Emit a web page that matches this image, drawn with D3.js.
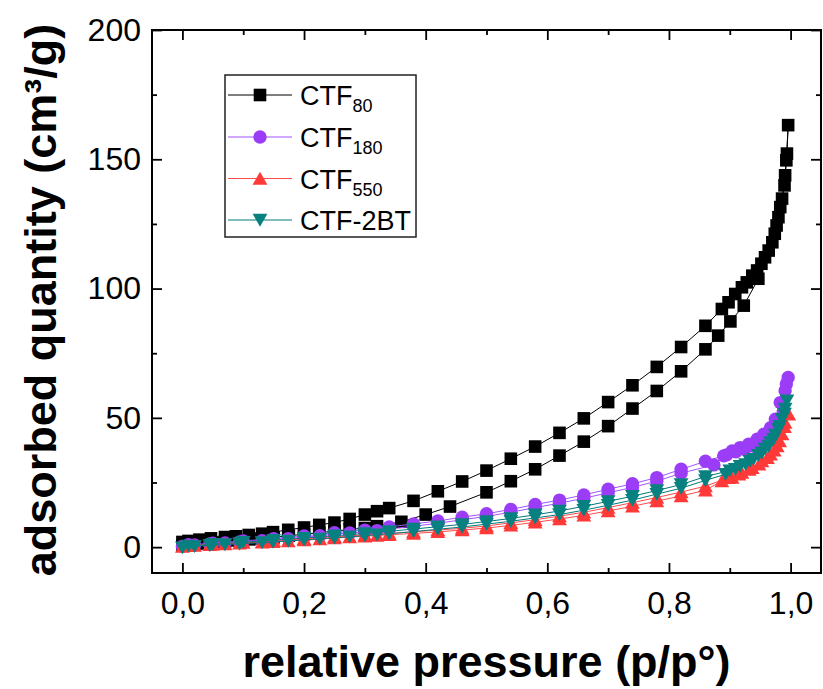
<!DOCTYPE html>
<html><head><meta charset="utf-8">
<script src="https://cdn.jsdelivr.net/npm/d3@7"></script>
<style>body{margin:0;background:#fff} svg{display:block} text{font-family:"Liberation Sans",Arial,sans-serif;fill:#000}</style>
</head><body><svg id="c" width="823" height="689"></svg>
<script>
// ---------- data (relative pressure p/p°, adsorbed quantity cm³/g) ----------
const seriesNames = ["CTF", "CTF", "CTF", "CTF-2BT"];
const seriesSubs  = ["80", "180", "550", ""];

// CTF80 : adsorption (ascending) and desorption (descending) branches
const x80a = [0.0,0.01,0.03,0.05,0.07,0.09,0.11,0.13,0.15,0.175,0.2,0.225,0.25,0.275,0.30,0.32,0.36,0.40,0.44,0.50,0.54,0.58,0.62,0.66,0.70,0.74,0.78,0.82,0.86,0.881,0.901,0.923,0.947,0.958,0.970,0.977,0.983,0.990,0.993,0.996];
const y80a = [0.6,1.0,1.4,1.8,2.2,2.6,3.0,3.4,3.8,4.4,5.0,5.6,6.2,6.8,7.4,8.1,9.8,12.6,15.7,21.2,25.5,30.1,35.4,40.8,46.8,53.6,60.4,68.0,76.5,81.8,87.3,93.4,103.8,112.1,117.9,124.4,131.5,139.9,149.6,163.2];
const x80d = [0.994,0.991,0.986,0.980,0.974,0.964,0.952,0.945,0.937,0.928,0.920,0.909,0.898,0.887,0.86,0.82,0.78,0.74,0.70,0.66,0.62,0.58,0.54,0.50,0.46,0.42,0.38,0.34,0.32,0.30,0.275,0.25,0.225,0.2,0.174,0.149,0.131,0.109,0.088,0.07,0.047,0.028,0.01,0.0];
const y80d = [152.2,143.8,134.8,127.6,121.2,114.7,109.6,107.0,105.0,102.4,100.5,97.9,94.7,92.1,85.6,77.4,69.7,62.6,56.1,49.8,44.2,38.9,34.2,29.6,25.4,21.6,17.9,15.1,13.9,12.6,10.9,9.5,8.6,7.6,6.7,5.8,5.2,4.7,4.2,3.9,3.4,2.9,2.4,2.0];

// CTF180
const x180a = [0.0,0.02,0.045,0.07,0.094,0.131,0.149,0.174,0.2,0.226,0.25,0.275,0.30,0.32,0.34,0.38,0.42,0.46,0.50,0.54,0.58,0.62,0.66,0.70,0.74,0.78,0.82,0.874,0.89,0.904,0.917,0.931,0.945,0.956,0.967,0.975,0.983,0.991,0.996];
const y180a = [0.3,0.8,1.2,1.6,2.0,2.5,2.8,3.3,3.8,4.4,5.0,5.5,5.9,6.4,7.0,8.1,9.2,10.6,11.9,13.5,15.3,17.0,18.9,21.0,23.1,25.5,28.6,31.8,35.3,37.2,38.5,39.8,41.7,43.7,46.2,49.5,55.9,60.5,65.6];
const x180d = [0.993,0.988,0.979,0.971,0.962,0.951,0.938,0.924,0.91,0.895,0.86,0.82,0.78,0.74,0.70,0.66,0.62,0.58,0.54,0.50,0.46,0.42,0.38,0.34,0.30,0.25,0.20,0.15,0.10,0.05,0.01];
const y180d = [63.1,52.7,48.8,45.1,42.5,40.8,39.1,37.9,36.9,35.7,33.2,30.1,26.9,24.5,22.4,20.2,18.2,16.5,14.6,12.9,11.6,10.1,9.0,7.8,6.6,5.6,4.3,3.3,2.4,1.5,0.9];

// CTF550
const x550a = [0.0,0.02,0.045,0.07,0.094,0.131,0.149,0.174,0.2,0.226,0.25,0.275,0.30,0.32,0.34,0.38,0.42,0.46,0.50,0.54,0.58,0.62,0.66,0.70,0.74,0.78,0.82,0.86,0.887,0.904,0.92,0.937,0.953,0.967,0.978,0.986,0.991,0.997];
const y550a = [0.2,0.6,0.9,1.2,1.5,1.9,2.1,2.4,2.7,3.1,3.5,3.9,4.2,4.5,4.8,5.3,5.9,6.6,7.4,8.4,9.6,10.9,12.3,14.0,15.8,17.8,19.8,22.0,25.6,26.9,28.8,30.7,33.3,35.9,39.1,43.7,48.2,51.4];
const x550d = [0.99,0.982,0.973,0.962,0.948,0.932,0.915,0.898,0.86,0.82,0.78,0.74,0.70,0.66,0.62,0.58,0.54,0.50,0.46,0.42,0.38,0.34,0.30,0.25,0.20,0.15,0.10,0.05,0.01];
const y550d = [46.5,41.0,37.5,34.6,32.0,30.0,28.2,26.8,23.6,21.3,19.2,17.2,15.3,13.5,12.0,10.6,9.4,8.2,7.3,6.6,5.9,5.3,4.7,4.0,3.2,2.5,1.8,1.1,0.5];

// CTF-2BT
const x2bta = [0.0,0.02,0.045,0.07,0.094,0.131,0.149,0.174,0.2,0.226,0.25,0.275,0.30,0.32,0.34,0.38,0.42,0.46,0.50,0.54,0.58,0.62,0.66,0.70,0.74,0.78,0.82,0.86,0.893,0.909,0.926,0.939,0.953,0.964,0.972,0.980,0.986,0.991,0.994];
const y2bta = [-0.2,0.3,0.7,1.0,1.3,1.8,2.0,2.4,2.8,3.2,3.6,4.0,4.4,4.8,5.2,6.0,6.9,7.8,8.9,10.0,11.3,12.6,14.3,16.2,18.2,20.5,22.8,25.8,28.2,30.1,32.0,34.0,36.5,39.1,41.7,45.6,49.5,53.4,56.6];
const x2btd = [0.99,0.982,0.975,0.967,0.958,0.947,0.933,0.917,0.9,0.86,0.82,0.78,0.74,0.70,0.66,0.62,0.58,0.54,0.50,0.46,0.42,0.38,0.34,0.30,0.25,0.20,0.15,0.10,0.05,0.01];
const y2btd = [51.5,46.8,43.4,40.5,38.0,35.6,33.2,31.3,29.6,27.3,24.2,21.9,19.7,17.7,15.8,14.0,12.5,11.1,9.9,8.8,7.9,7.0,6.1,5.3,4.4,3.5,2.7,1.9,1.1,0.5];

// ticks
const xMajor = [0, 0.2, 0.4, 0.6, 0.8, 1.0];
const xTickLabels = ["0,0", "0,2", "0,4", "0,6", "0,8", "1,0"];
const xMinor = [0.1, 0.3, 0.5, 0.7, 0.9];
const yMajor = [0, 50, 100, 150, 200];
const yMinor = [25, 75, 125, 175];

// ---------- drawing ----------
const svg = d3.select("#c");
const L = 152, R = 821, T = 30, B = 573;
const x = d3.scaleLinear().domain([-0.05, 1.05]).range([L, R]);
const y = d3.scaleLinear().domain([-10, 200]).range([B, T]);

const series = [
  {xs: [x80a, x80d], ys: [y80a, y80d], color: "#000000", line: "#000000", shape: "square"},
  {xs: [x180a, x180d], ys: [y180a, y180d], color: "#9b3cf7", line: "#a352ff", shape: "circle"},
  {xs: [x550a, x550d], ys: [y550a, y550d], color: "#ff3838", line: "#ff4a4a", shape: "up"},
  {xs: [x2bta, x2btd], ys: [y2bta, y2btd], color: "#078080", line: "#007a7a", shape: "down"}
];

function markerPath(shape) {
  if (shape === "square") return "M-6.3,-6.3H6.3V6.3H-6.3Z";
  if (shape === "circle") return d3.symbol(d3.symbolCircle, Math.PI * 6.7 * 6.7)();
  if (shape === "up") return "M0,-6.7L7.4,6.2L-7.4,6.2Z";
  return "M0,6.7L7.4,-6.2L-7.4,-6.2Z";
}

const plot = svg.append("g");
const lineGen = d3.line().x(d => x(d[0])).y(d => y(d[1]));
series.forEach(s => {
  const pts = [];
  s.xs.forEach((xs, b) => xs.forEach((v, i) => pts.push([v, s.ys[b][i]])));
  const g = plot.append("g");
  g.append("path").attr("d", lineGen(pts)).attr("fill", "none")
    .attr("stroke", s.line).attr("stroke-width", 1);
  g.selectAll("path.m").data(pts).join("path").attr("class", "m")
    .attr("d", markerPath(s.shape))
    .attr("transform", d => `translate(${x(d[0])},${y(d[1])})`)
    .attr("fill", s.color);
});

// axes
function styleAxis(g) {
  g.select(".domain").remove();
  g.selectAll(".tick line").attr("stroke", "#000").attr("stroke-width", 1.8);
}
const tickFont = 32;
svg.append("g").attr("transform", `translate(0,${B})`)
  .call(d3.axisBottom(x).tickValues(xMajor).tickSize(-10).tickPadding(18)
        .tickFormat((d, i) => xTickLabels[i]))
  .call(styleAxis)
  .call(g => g.selectAll("text").attr("font-size", tickFont).attr("font-family", "Liberation Sans, Arial, sans-serif"));
svg.append("g").attr("transform", `translate(0,${B})`)
  .call(d3.axisBottom(x).tickValues(xMinor).tickSize(-5).tickFormat("")).call(styleAxis);
svg.append("g").attr("transform", `translate(0,${T})`)
  .call(d3.axisTop(x).tickValues(xMajor).tickSize(-10).tickFormat("")).call(styleAxis);
svg.append("g").attr("transform", `translate(0,${T})`)
  .call(d3.axisTop(x).tickValues(xMinor).tickSize(-5).tickFormat("")).call(styleAxis);

svg.append("g").attr("transform", `translate(${L},0)`)
  .call(d3.axisLeft(y).tickValues(yMajor).tickSize(-10).tickPadding(11).tickFormat(d3.format("d")))
  .call(styleAxis)
  .call(g => g.selectAll("text").attr("font-size", tickFont).attr("font-family", "Liberation Sans, Arial, sans-serif"));
svg.append("g").attr("transform", `translate(${L},0)`)
  .call(d3.axisLeft(y).tickValues(yMinor).tickSize(-5).tickFormat("")).call(styleAxis);
svg.append("g").attr("transform", `translate(${R},0)`)
  .call(d3.axisRight(y).tickValues(yMajor).tickSize(-10).tickFormat("")).call(styleAxis);
svg.append("g").attr("transform", `translate(${R},0)`)
  .call(d3.axisRight(y).tickValues(yMinor).tickSize(-5).tickFormat("")).call(styleAxis);

svg.append("rect").attr("x", L).attr("y", T).attr("width", R - L).attr("height", B - T)
  .attr("fill", "none").attr("stroke", "#000").attr("stroke-width", 2);

// axis titles
svg.append("text").attr("x", (L + R) / 2).attr("y", 677).attr("text-anchor", "middle")
  .attr("font-size", 45).attr("font-weight", "bold").text("relative pressure (p/p°)");
svg.append("text").attr("transform", "translate(56,300) rotate(-90)").attr("text-anchor", "middle")
  .attr("font-size", 45).attr("font-weight", "bold").text("adsorbed quantity (cm³/g)");

// legend
const lg = svg.append("g");
lg.append("rect").attr("x", 225).attr("y", 75).attr("width", 191).attr("height", 162)
  .attr("fill", "#fff").attr("stroke", "#222").attr("stroke-width", 1.5);
const legendY = [95, 137, 178.5, 220];
series.forEach((s, i) => {
  const cy = legendY[i];
  lg.append("line").attr("x1", 228).attr("x2", 292).attr("y1", cy).attr("y2", cy)
    .attr("stroke", s.line).attr("stroke-width", 1.2);
  lg.append("path").attr("d", markerPath(s.shape)).attr("transform", `translate(260,${cy})`).attr("fill", s.color);
  const t = lg.append("text").attr("x", 300).attr("y", cy + 10).attr("font-size", 27);
  t.append("tspan").text(seriesNames[i]);
  if (seriesSubs[i]) t.append("tspan").attr("font-size", 18).attr("dy", 7).text(seriesSubs[i]);
});
</script></body></html>
